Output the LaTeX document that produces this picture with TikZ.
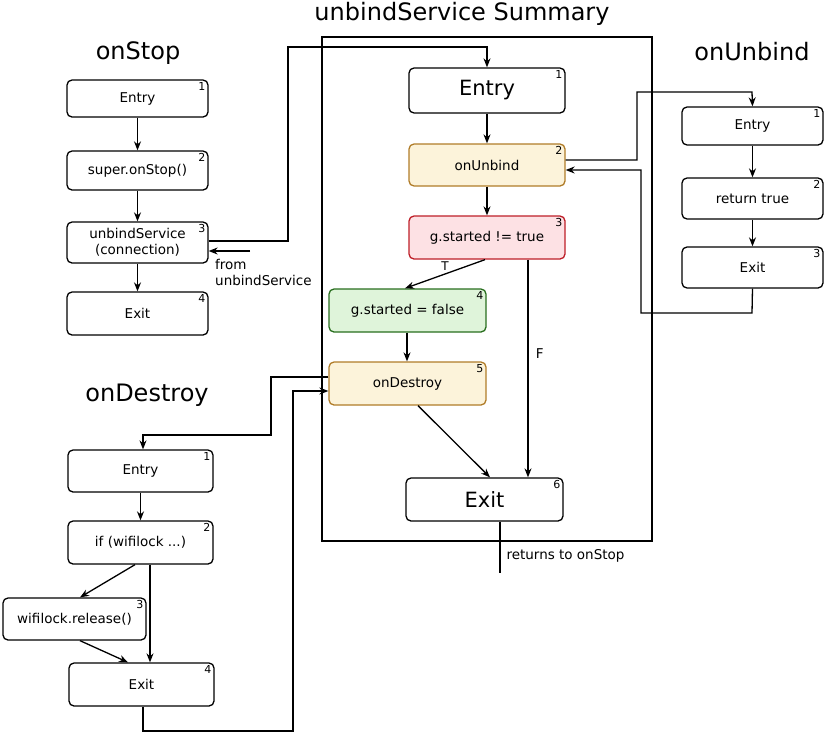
\documentclass[tikz,border=0pt]{standalone}
\usepackage{fontspec}
\setmainfont{DejaVu Sans}
\usetikzlibrary{arrows.meta,positioning,calc}
\definecolor{ybox}{RGB}{252,243,218}
\definecolor{yline}{RGB}{176,124,40}
\definecolor{rbox}{RGB}{253,225,228}
\definecolor{rline}{RGB}{190,30,40}
\definecolor{gbox}{RGB}{223,244,218}
\definecolor{gline}{RGB}{40,110,30}
% box macro: name, x1,y1,x2,y2, style, text, number
\newcommand{\bx}[8]{%
  \node[#6, minimum width={#4-#2}, minimum height={#5-#3}] (#1) at ({(#2+#4)/2},{(#3+#5)/2}) {#7};
  \node[num] at (#1.north east) {#8};}

\begin{document}
\begin{tikzpicture}[x=1pt,y=-1pt,
    every node/.style={font=\fontsize{13.5}{16}\selectfont},
    stepbox/.style={draw, line width=1.3pt, rounded corners=5pt, fill=white, inner sep=0pt, align=center},
    ybx/.style={stepbox, draw=yline, fill=ybox},
    rbx/.style={stepbox, draw=rline, fill=rbox},
    gbx/.style={stepbox, draw=gline, fill=gbox},
    title/.style={font=\fontsize{24}{28}\selectfont},
    num/.style={font=\fontsize{11}{13}\selectfont, anchor=north east, inner xsep=3pt, inner ysep=3pt},
    arr/.style={-{Stealth[length=9pt,width=7pt]}, line width=1.3pt}
  ]
  \useasboundingbox (0,0) rectangle (830,737);

  % Summary frame
  \draw[line width=2pt] (322,37) rectangle (652,541);
  \node[title] (tsum) at (462,14) {unbindService Summary};

  % onStop
  \node[title] (tstop) at (138,53) {onStop};
  \bx{s1}{67}{80}{208}{117}{stepbox}{Entry}{1}
  \bx{s2}{67}{151}{208}{190}{stepbox}{super.onStop()}{2}
  \bx{s3}{67}{222}{208}{263}{stepbox}{unbindService\\(connection)}{3}
  \bx{s4}{67}{292}{208}{335}{stepbox}{Exit}{4}

  % Summary
  \bx{m1}{409}{68}{565}{113}{stepbox, font=\fontsize{21}{25}\selectfont}{Entry}{1}
  \bx{m2}{409}{144}{565}{186}{ybx}{onUnbind}{2}
  \bx{m3}{409}{216}{565}{259}{rbx}{g.started != true}{3}
  \bx{m4}{329}{289}{486}{332}{gbx}{g.started = false}{4}
  \bx{m5}{329}{362}{486}{405}{ybx}{onDestroy}{5}
  \bx{m6}{406}{478}{563}{521}{stepbox, font=\fontsize{21}{25}\selectfont}{Exit}{6}

  % onUnbind
  \node[title] (tunb) at (752,52) {onUnbind};
  \bx{u1}{682}{107}{823}{145}{stepbox}{Entry}{1}
  \bx{u2}{682}{178}{823}{219}{stepbox}{return true}{2}
  \bx{u3}{682}{247}{823}{288}{stepbox}{Exit}{3}

  % onDestroy
  \node[title] (tdes) at (147,395) {onDestroy};
  \bx{d1}{68}{450}{213}{492}{stepbox}{Entry}{1}
  \bx{d2}{68}{521}{213}{564}{stepbox}{if (wifilock ...)}{2}
  \bx{d3}{3}{598}{146}{640}{stepbox}{wifilock.release()}{3}
  \bx{d4}{69}{663}{214}{706}{stepbox}{Exit}{4}

  % Arrows
  \foreach \a/\b in {s1/s2,s2/s3,s3/s4,m1/m2,m2/m3,u1/u2,u2/u3,d1/d2}
    \draw[arr] (\a) -- (\b);
  \draw[arr] (m4.south -| 407,0) -- (m5.north -| 407,0);

  \draw[arr] (s3.east |- 0,241) -- (288,241) -- (288,47) -- (487,47) -- (m1.north -| 487,0);
  \node[anchor=north west, align=left, inner sep=0pt] (from) at (215,259) {from\\unbindService};
  \coordinate (fromtip) at (250,251);
  \draw[arr] (fromtip) -- (s3.east |- 0,251);

  \draw[arr] (m2.east |- 0,160) -- (637,160) -- (637,92) -- (752,92) -- (u1.north);
  \draw[arr] (u3.south) -- (752,313) -- (641,313) -- (641,170) -- (m2.east |- 0,170);

  \draw[arr] (m3.south -| 485,0) -- node[pos=0.5, above, font=\fontsize{12}{14}\selectfont] {T} (m4.north -| 405,0);
  \draw[arr] (m3.south -| 528,0) -- node[pos=0.43, right=4pt] {F} (m6.north -| 528,0);
  \draw[arr] (m5.south -| 418,0) -- (m6.north -| 490,0);
  \coordinate (ret) at (500,573);
  \draw[line width=1.3pt] (m6.south -| 500,0) -- (ret);
  \node[anchor=west] (rettxt) at (503,556) {returns to onStop};

  \draw[arr] (m5.west |- 0,377) -- (271,377) -- (271,435) -- (143,435) -- (d1.north -| 143,0);
  \draw[arr] (d4.south -| 143,0) -- (143,731) -- (293,731) -- (293,391) -- (m5.west |- 0,391);
  \draw[arr] (d2.south -| 135,0) -- (d3.north -| 80,0);
  \draw[arr] (d2.south -| 150,0) -- (d4.north -| 150,0);
  \draw[arr] (d3.south -| 80,0) -- (d4.north -| 128,0);
\end{tikzpicture}
\end{document}
